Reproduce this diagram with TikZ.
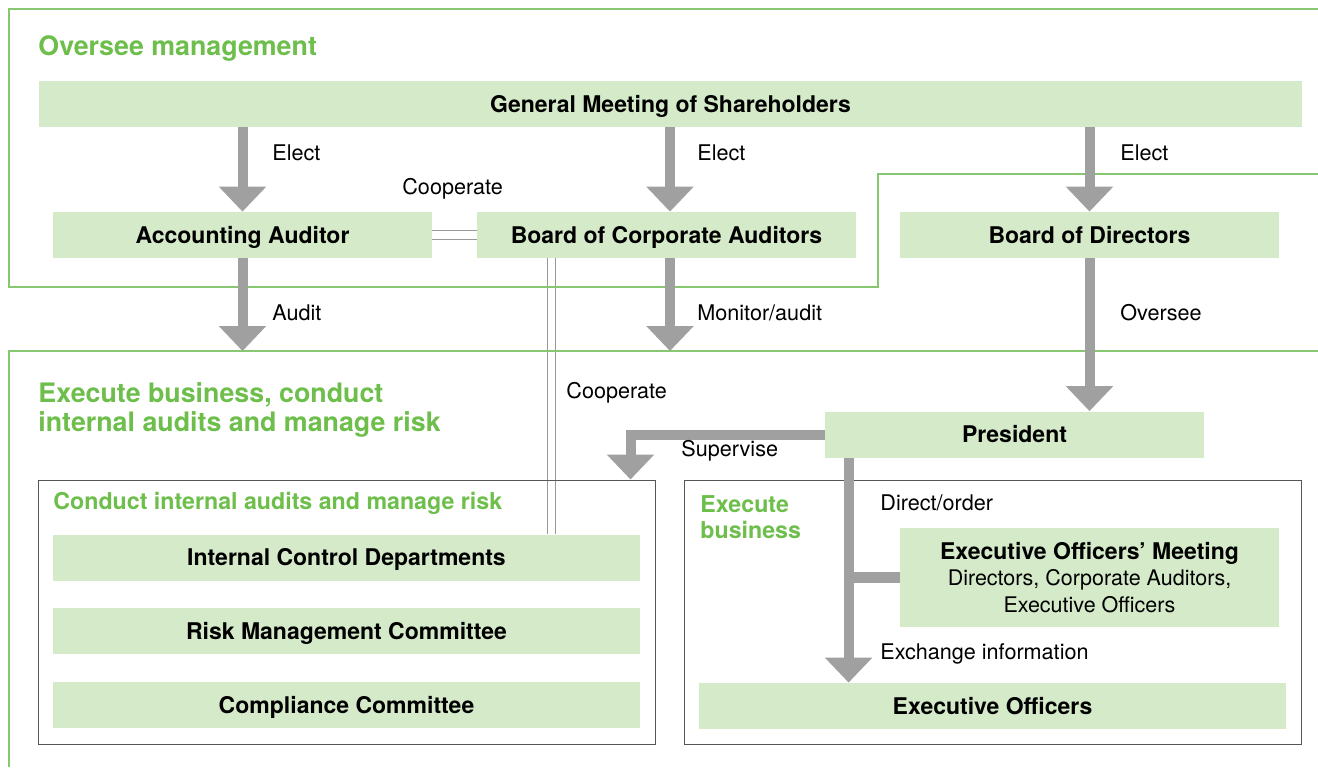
\documentclass[tikz,border=0pt]{standalone}
\usepackage{fontspec}
\setmainfont{TeX Gyre Heros}
\usetikzlibrary{arrows.meta, positioning}
\definecolor{boxgreen}{HTML}{D4EAC8}
\definecolor{headgreen}{HTML}{6DBE4B}
\definecolor{linegreen}{HTML}{86C76F}
\definecolor{arrowgray}{HTML}{A0A0A0}
\definecolor{framegray}{HTML}{555555}

\begin{document}
\begin{tikzpicture}[
    x=0.5pt, y=-0.5pt,
    box/.style={fill=boxgreen, inner sep=0pt, minimum width=189.5pt, minimum height=23pt, text height=9.3pt, text depth=1pt, font=\fontsize{11.5}{14}\selectfont\bfseries},
    widebox/.style={box, minimum width=293.5pt},
    panel/.style={draw=framegray, line width=0.5pt, inner sep=0pt, minimum width=308.5pt, minimum height=132pt},
    heading/.style={anchor=west, inner sep=0pt, text=headgreen, align=left, font=\fontsize{13.4}{14.5}\selectfont\bfseries},
    subheading/.style={anchor=west, inner sep=0pt, text=headgreen, align=left, font=\fontsize{11.6}{13}\selectfont\bfseries},
    tag/.style={anchor=west, inner sep=0pt, font=\fontsize{10.8}{13}\selectfont},
    bigarrow/.style={draw=arrowgray, line width=5pt, -{Triangle[width=23pt, length=12.5pt]}},
    coop/.style={draw=gray!80, line width=0.5pt, double=white, double distance=3.8pt},
    region/.style={draw=linegreen, line width=0.6pt},
    node distance=13.5pt
]
\useasboundingbox (0,0) rectangle (1318,767);

% Oversee management
\node[heading] (oversee) at (38,48) {Oversee management};
\node[box, minimum width=631.5pt] (gms) at (670.5,104) {General Meeting of Shareholders};
\node[box] (acc) at (242.5,235) {Accounting Auditor};
\node[box] (bca) at (666.5,235) {Board of Corporate Auditors};
\node[box] (bod) at (1089.5,235) {Board of Directors};

% Execute business
\node[heading] (execute) at (38,409.5) {Execute business, conduct\\internal audits and manage risk};
\node[box] (pres) at (1014.5,434.5) {President};

\node[widebox] (icd) at (346.5,557.5) {Internal Control Departments};
\node[widebox, below=of icd] (rmc) {Risk Management Committee};
\node[widebox, below=of rmc] (cc) {Compliance Committee};

\node[box, minimum height=49.5pt, text height=, text depth=, align=center, font=\fontsize{10.75}{13.2}\selectfont] (eom) at (1089.5,577.5)
    {{\fontsize{11.5}{13.2}\selectfont\bfseries Executive Officers’ Meeting}\\Directors, Corporate Auditors,\\Executive Officers};
\node[widebox] (eo) at (992.5,706) {Executive Officers};

% Cooperate lines
\draw[coop] (acc.east) -- (bca.west);
\coordinate (coopdown) at ([xshift=37.5pt]bca.south west);
\draw[coop] (coopdown) -- (coopdown |- icd.north);

% Panels and regions
\node[panel] (auditpanel) at (346.5,612) {};
\node[panel] (bizpanel) at (992.5,612) {};
\node[subheading] (audithead) at (53,503) {Conduct internal audits and manage risk};
\node[subheading] (bizhead) at (700,517) {Execute\\business};

\draw[region] (1318,9) -- (9,9) -- (9,287) -- (878,287) -- (878,174) -- (1318,174);
\draw[region] (1318,351) -- (9,351) -- (9,767);
\coordinate (exectop) at (9,351);

% Arrows
\coordinate (bcain) at ([xshift=1.75pt]bca.north);
\coordinate (bcaout) at ([xshift=1.75pt]bca.south);
\draw[bigarrow] (gms.south -| acc) -- (acc.north);
\draw[bigarrow] (gms.south -| bcain) -- (bcain);
\draw[bigarrow] (gms.south -| bod) -- (bod.north);
\draw[bigarrow] (acc.south) -- (acc.south |- exectop);
\draw[bigarrow] (bcaout) -- (bcaout |- exectop);
\draw[bigarrow] (bod.south) -- (bod.south |- pres.north);
\draw[bigarrow] (pres.west) -| ([xshift=-12.5pt]auditpanel.north east);
\coordinate (order) at ([xshift=12pt]pres.south west);
\draw[bigarrow] (order) -- (order |- eo.north);
\draw[draw=arrowgray, line width=5.5pt] (eom.west) -- (eom.west -| order);

% Labels
\node[tag] (elect1) at (272,153) {Elect};
\node[tag] (elect2) at (697,153) {Elect};
\node[tag] (elect3) at (1120,153) {Elect};
\node[tag] (coop1) at (402,189) {Cooperate};
\node[tag] (audit) at (272,313) {Audit};
\node[tag] (monitor) at (697,313) {Monitor/audit};
\node[tag] (overseelbl) at (1120,313) {Oversee};
\node[tag] (coop2) at (566,393) {Cooperate};
\node[tag] (supervise) at (681,451) {Supervise};
\node[tag] (direct) at (880,503) {Direct/order};
\node[tag] (exchange) at (880,654) {Exchange information};

\end{tikzpicture}
\end{document}
